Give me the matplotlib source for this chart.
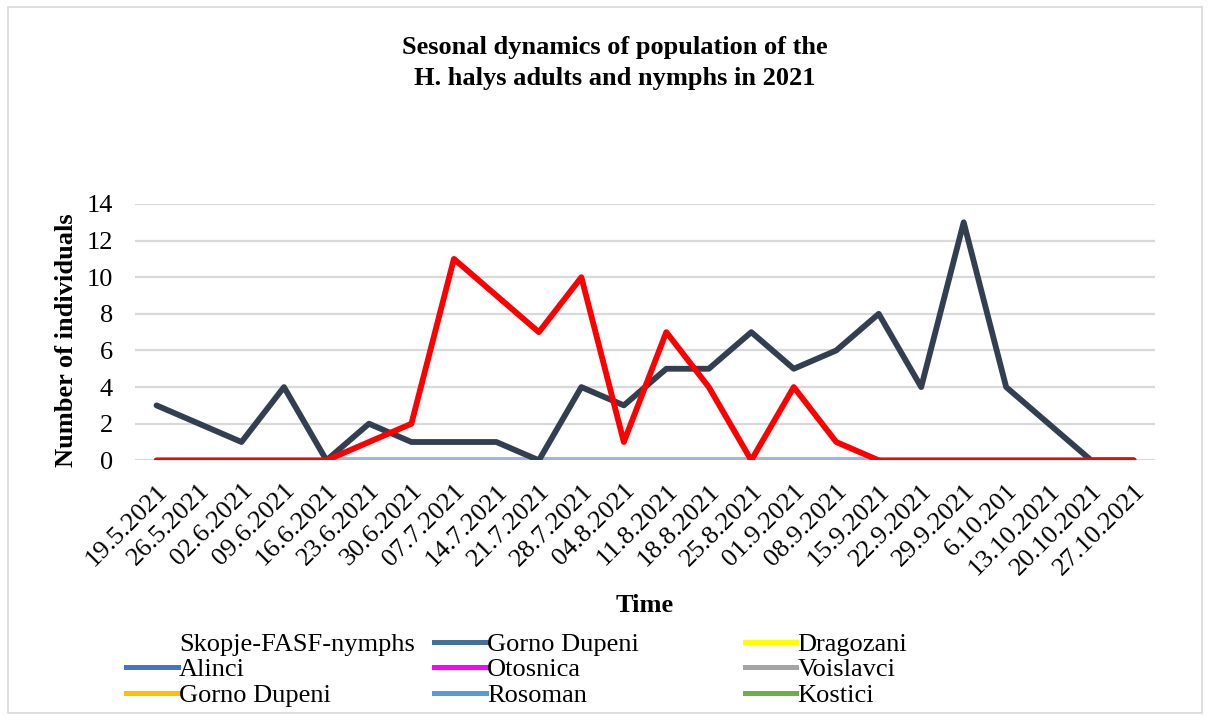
import matplotlib.pyplot as plt
from matplotlib.lines import Line2D
from matplotlib.patches import Rectangle
import numpy as np

plt.rcParams['font.family'] = ['Liberation Serif', 'DejaVu Serif']

# Data
dates = ['19.5.2021', '26.5.2021', '02.6.2021', '09.6.2021', '16.6.2021', '23.6.2021',
         '30.6.2021', '07.7.2021', '14.7.2021', '21.7.2021', '28.7.2021', '04.8.2021',
         '11.8.2021', '18.8.2021', '25.8.2021', '01.9.2021', '08.9.2021', '15.9.2021',
         '22.9.2021', '29.9.2021', '6.10.201', '13.10.2021', '20.10.2021', '27.10.2021']
dark_series = [3, 2, 1, 4, 0, 2, 1, 1, 1, 0, 4, 3, 5, 5, 7, 5, 6, 8, 4, 13, 4, 2, 0, 0]
red_series = [0, 0, 0, 0, 0, 1, 2, 11, 9, 7, 10, 1, 7, 4, 0, 4, 1, 0, 0, 0, 0, 0, 0, 0]
zero_series = [np.nan] * 4 + [0] * 14 + [np.nan] * 6

# legend columns as they appear (Excel lays them out in fixed-width columns)
legend_cols = [
    (['Skopje-FASF-nymphs', 'Alinci', 'Gorno Dupeni'], ['white', '#4472C4', '#FFC000']),
    (['Gorno Dupeni', 'Otosnica', 'Rosoman'], ['#44729D', '#FF00FF', '#5B9BD5']),
    (['Dragozani', 'Voislavci', 'Kostici'], ['#FFFF00', '#A5A5A5', '#70AD47']),
]

fig = plt.figure(figsize=(12.08, 7.17), dpi=100)
ax = fig.add_axes([0.112, 0.358, 0.844, 0.3575])

x = np.arange(len(dates))
ax.plot(x, zero_series, color='#A2B3D4', lw=4.2, solid_capstyle='round', zorder=3)
ax.plot(x, dark_series, color='#333F50', lw=4.2, solid_capstyle='round', zorder=4)
ax.plot(x, red_series, color='#FF0000', lw=4.2, solid_capstyle='round', zorder=5)

ax.set_xlim(-0.5, len(dates) - 0.5)
ax.set_ylim(0, 14)
ax.set_yticks(range(0, 15, 2))
ax.set_xticks(x)
ax.set_xticklabels(dates, rotation=45, ha='right', rotation_mode='anchor', fontsize=19)
ax.tick_params(axis='y', labelsize=19, length=0, pad=16)
ax.tick_params(axis='x', length=0, pad=14)
ax.grid(axis='y', color='#D9D9D9', lw=1.6)
ax.set_axisbelow(True)
for s in ax.spines.values():
    s.set_visible(False)

ax.set_ylabel('Number of individuals', fontsize=19, fontweight='bold')
ax.yaxis.set_label_coords(-0.056, 0.47)
fig.text(0.534, 0.155, 'Time', ha='center', va='center', fontsize=19, fontweight='bold')
fig.text(0.509, 0.912, 'Sesonal dynamics of population of the\nH. halys adults and nymphs in 2021',
         ha='center', va='center', fontsize=19, fontweight='bold', linespacing=1.42)

col_x = [0.1045, 0.3595, 0.6165]
for (names, colors), cx in zip(legend_cols, col_x):
    handles = [Line2D([], [], color=c, lw=3.6) for c in colors]
    leg = fig.legend(handles, names, frameon=False, fontsize=19, loc='upper left',
                     bbox_to_anchor=(cx, 0.118), handlelength=1.95, handletextpad=0.05,
                     labelspacing=0.08, borderaxespad=0, borderpad=0)

fig.patches.append(Rectangle((0.007, 0.005), 0.988, 0.985, transform=fig.transFigure,
                             fill=False, edgecolor='#D9D9D9', lw=1.2))

fig.savefig('out.png', dpi=100)
